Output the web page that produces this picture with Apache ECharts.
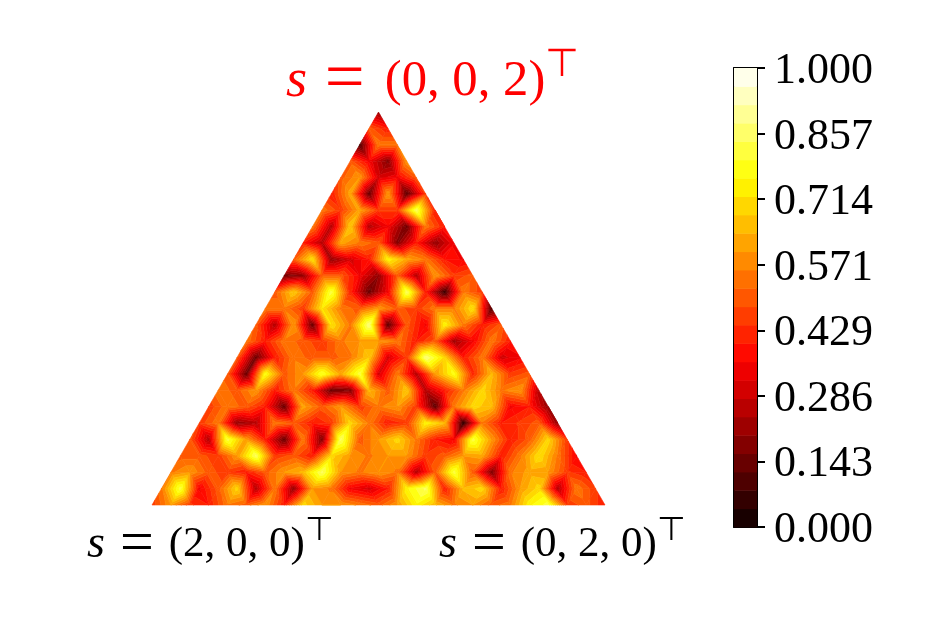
<!DOCTYPE html>
<html>
<head>
<meta charset="utf-8">
<title>simplex heatmap</title>
<script src="https://cdn.jsdelivr.net/npm/echarts@6/dist/echarts.min.js"></script>
<style>
html, body { margin: 0; padding: 0; background: #fff; }
#chart { width: 934px; height: 623px; }
</style>
</head>
<body>
<div id="chart"></div>
<script>
// values on the simplex lattice, one row per line, apex first
const row00 = [.2];
const row01 = [.5, .4];
const row02 = [.1, .55, .55];
const row03 = [.5, .35, .18, .6];
const row04 = [.5, .6, .3, .35, .5];
const row05 = [.4, .62, .14, .6, .12, .45];
const row06 = [.55, .45, .62, .45, .45, .85, .4];
const row07 = [.55, .25, .68, .25, .35, .15, .55, .4];
const row08 = [.4, .25, .62, .55, .5, .18, .4, .2, .35];
const row09 = [.5, .72, .2, .3, .4, .75, .62, .55, .4, .35];
const row10 = [.15, .2, .5, .5, .35, .2, .5, .25, .6, .45, .5];
const row11 = [.5, .68, .5, .82, .42, .14, .35, .85, .4, .07, .55, .45];
const row12 = [.55, .55, .45, .72, .55, .5, .6, .5, .45, .55, .55, .72, .1];
const row13 = [.5, .25, .6, .14, .72, .55, .88, .12, .5, .35, .75, .55, .4, .5];
const row14 = [.55, .4, .55, .5, .45, .55, .6, .6, .55, .4, .5, .22, .35, .55, .4];
const row15 = [.5, .14, .4, .55, .5, .5, .55, .68, .3, .45, .88, .7, .4, .55, .3, .35];
const row16 = [.5, .14, .78, .5, .6, .8, .62, .82, .3, .55, .25, .6, .78, .42, .65, .45, .5];
const row17 = [.55, .5, .6, .4, .55, .4, .14, .17, .65, .5, .68, .25, .4, .55, .7, .55, .6, .25];
const row18 = [.45, .55, .5, .4, .14, .62, .5, .6, .45, .55, .6, .45, .12, .55, .7, .65, .35, .4, .2];
const row19 = [.45, .55, .2, .25, .55, .5, .4, .45, .7, .55, .4, .45, .75, .65, .05, .55, .4, .45, .5, .2];
const row20 = [.5, .25, .82, .6, .4, .14, .55, .17, .85, .5, .6, .7, .55, .4, .35, .82, .6, .4, .5, .7, .45];
const row21 = [.5, .5, .45, .6, .85, .45, .5, .4, .7, .6, .55, .6, .6, .45, .5, .6, .62, .4, .55, .72, .55, .35];
const row22 = [.55, .6, .5, .45, .4, .5, .6, .65, .85, .6, .55, .6, .55, .25, .5, .82, .5, .17, .55, .62, .6, .45, .4];
const row23 = [.55, .82, .35, .5, .7, .25, .55, .2, .6, .55, .35, .3, .4, .75, .85, .4, .65, .7, .4, .6, .7, .25, .55, .45];
const row24 = [.45, .6, .45, .4, .55, .5, .6, .4, .7, .6, .6, .55, .5, .6, .75, .65, .55, .6, .5, .55, .75, .82, .45, .5, .4];
const rows = [row00, row01, row02, row03, row04, row05, row06, row07, row08, row09, row10, row11, row12,
    row13, row14, row15, row16, row17, row18, row19, row20, row21, row22, row23, row24];

const bandCount = 25;
const labelLeft = ['s', '=', '(2, 0, 0)'];
const labelRight = ['s', '=', '(0, 2, 0)'];
const labelTop = ['s', '=', '(0, 0, 2)'];

// matplotlib "hot"
function hot(x) {
    let r = Math.min(1, 0.0416 + 0.9584 * x / 0.365079);
    let g = Math.max(0, Math.min(1, (x - 0.365079) / 0.396825));
    let b = Math.max(0, Math.min(1, (x - 0.761905) / 0.238095));
    return 'rgb(' + Math.round(r * 255) + ',' + Math.round(g * 255) + ',' + Math.round(b * 255) + ')';
}

function vertex(t, k) {
    let n = rows.length - 1;
    return [0.5 + (k - t / 2) / n, 1 - t / n, rows[t][k]];
}

// two triangles per lattice cell
let triangles = [];
for (let t = 0; t < rows.length - 1; t++) {
    for (let k = 0; k <= t; k++) {
        triangles.push([].concat(vertex(t, k), vertex(t + 1, k), vertex(t + 1, k + 1)));
        if (k < t) {
            triangles.push([].concat(vertex(t, k), vertex(t, k + 1), vertex(t + 1, k + 1)));
        }
    }
}

// keep the part of a polygon on one side of a level
function clip(poly, level, keepAbove) {
    let out = [];
    for (let i = 0; i < poly.length; i++) {
        let p = poly[i];
        let q = poly[(i + 1) % poly.length];
        let pIn = keepAbove ? p[2] >= level : p[2] <= level;
        let qIn = keepAbove ? q[2] >= level : q[2] <= level;
        if (pIn) out.push(p);
        if (pIn !== qIn) {
            let f = (level - p[2]) / (q[2] - p[2]);
            out.push([p[0] + f * (q[0] - p[0]), p[1] + f * (q[1] - p[1]), level]);
        }
    }
    return out;
}

function renderContour(params, api) {
    let poly = [
        [api.value(0), api.value(1), api.value(2)],
        [api.value(3), api.value(4), api.value(5)],
        [api.value(6), api.value(7), api.value(8)]
    ];
    let children = [];
    for (let b = 0; b < bandCount; b++) {
        let part = clip(clip(poly, b / bandCount, true), (b + 1) / bandCount, false);
        if (part.length < 3) continue;
        let color = hot((b + 0.5) / bandCount);
        children.push({
            type: 'polygon',
            shape: { points: part.map(function (p) { return api.coord([p[0], p[1]]); }) },
            style: { fill: color, stroke: color, lineWidth: 0.6 }
        });
    }
    return { type: 'group', children: children };
}

function renderBand(params, api) {
    let b = api.value(0);
    let p0 = api.coord([0, b / bandCount]);
    let p1 = api.coord([1, (b + 1) / bandCount]);
    return {
        type: 'rect',
        shape: { x: p0[0], y: p1[1], width: p1[0] - p0[0], height: p0[1] - p1[1] + 0.5 },
        style: { fill: hot((b + 0.5) / bandCount) }
    };
}

let bands = [];
for (let b = 0; b < bandCount; b++) bands.push([b]);

const serif = '"Liberation Serif", "DejaVu Serif", serif';

function mathLabel(parts, left, top, color, scale, eqGap) {
    return {
        type: 'text',
        left: left,
        top: top,
        style: {
            text: '{s|' + parts[0] + '}{eq|' + parts[1] + '}{t|' + parts[2] + '}{sup|⊤}',
            fill: color,
            rich: {
                s: { fontFamily: serif, fontStyle: 'italic', fontSize: 46 * scale, fill: color, padding: [0, 15 * scale, 0, 0] },
                eq: { fontFamily: serif, fontSize: 60 * scale, fill: color, padding: [0, eqGap, 0, 0] },
                t: { fontFamily: serif, fontSize: 43 * scale, fill: color },
                sup: { fontFamily: '"DejaVu Sans"', fontSize: 33 * scale, fill: color, verticalAlign: 'top', lineHeight: 44 * scale }
            }
        }
    };
}

let chart = echarts.init(document.getElementById('chart'));
chart.setOption({
    animation: false,
    backgroundColor: '#fff',
    grid: [
        { left: 152, top: 112, width: 453, height: 393 },
        { left: 734, top: 68, width: 23, height: 459 }
    ],
    xAxis: [
        { gridIndex: 0, type: 'value', min: 0, max: 1, show: false },
        { gridIndex: 1, type: 'value', min: 0, max: 1, position: 'top', axisLine: { show: true, onZero: false, lineStyle: { color: '#000', width: 2 } }, axisTick: { show: false }, axisLabel: { show: false }, splitLine: { show: false } },
        { gridIndex: 1, type: 'value', min: 0, max: 1, position: 'bottom', axisLine: { show: true, onZero: false, lineStyle: { color: '#000', width: 2 } }, axisTick: { show: false }, axisLabel: { show: false }, splitLine: { show: false } }
    ],
    yAxis: [
        { gridIndex: 0, type: 'value', min: 0, max: 1, show: false },
        {
            gridIndex: 1,
            type: 'value',
            min: 0,
            max: 1,
            interval: 1 / 7,
            position: 'right',
            axisLine: { show: true, onZero: false, lineStyle: { color: '#000', width: 2 } },
            axisTick: { show: true, length: 8, lineStyle: { color: '#000', width: 2 } },
            axisLabel: {
                show: true,
                margin: 17,
                color: '#000',
                showMinLabel: true,
                showMaxLabel: true,
                formatter: function (v) { return '{v|' + v.toFixed(3) + '}'; },
                rich: {
                    v: { fontFamily: serif, fontSize: 44, color: '#000', padding: [7, 0, 0, 0] }
                }
            },
            splitLine: { show: false }
        },
        {
            gridIndex: 1,
            type: 'value',
            min: 0,
            max: 1,
            position: 'left',
            axisLine: { show: true, onZero: false, lineStyle: { color: '#000', width: 2 } },
            axisTick: { show: false },
            axisLabel: { show: false },
            splitLine: { show: false }
        }
    ],
    series: [
        {
            type: 'custom',
            xAxisIndex: 0,
            yAxisIndex: 0,
            silent: true,
            clip: false,
            renderItem: renderContour,
            encode: { x: 0, y: 1 },
            data: triangles
        },
        {
            type: 'custom',
            xAxisIndex: 1,
            yAxisIndex: 1,
            silent: true,
            z: 1,
            renderItem: renderBand,
            encode: { y: 0 },
            data: bands
        }
    ],
    graphic: [
        mathLabel(labelTop, 286, 46, '#f00', 1.18, 20),
        mathLabel(labelLeft, 87, 515, '#000', 1, 15),
        mathLabel(labelRight, 439, 515, '#000', 1, 15)
    ]
});
</script>
</body>
</html>
